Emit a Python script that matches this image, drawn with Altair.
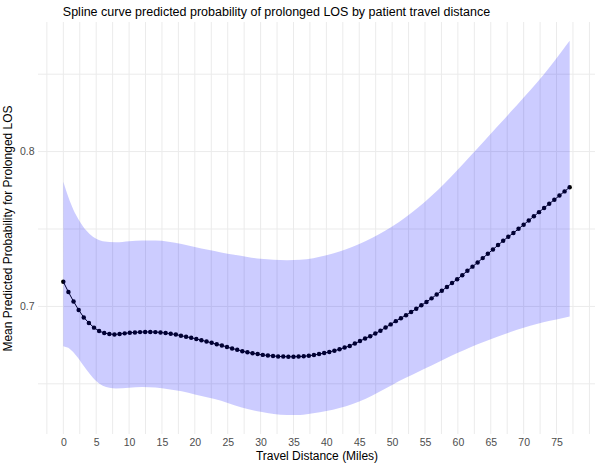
import altair as alt
import numpy as np
import pandas as pd

# Prediction grid: 100 evenly spaced travel distances from 0 to 77 miles
distance = np.linspace(0, 77, 100)

# Mean predicted probability of prolonged LOS at each grid distance
mean_prob = [
    0.7159, 0.7093, 0.7032, 0.6977, 0.6929, 0.6893, 0.6863, 0.6841, 0.6828, 0.6822,
    0.6819, 0.6822, 0.6826, 0.6830, 0.6832, 0.6834, 0.6835, 0.6835, 0.6834, 0.6832,
    0.6828, 0.6824, 0.6818, 0.6811, 0.6804, 0.6797, 0.6790, 0.6782, 0.6773, 0.6765,
    0.6756, 0.6748, 0.6738, 0.6728, 0.6720, 0.6711, 0.6704, 0.6698, 0.6692, 0.6687,
    0.6683, 0.6680, 0.6677, 0.6676, 0.6675, 0.6675, 0.6676, 0.6678, 0.6681, 0.6686,
    0.6692, 0.6699, 0.6706, 0.6714, 0.6723, 0.6734, 0.6745, 0.6760, 0.6776, 0.6793,
    0.6808, 0.6825, 0.6843, 0.6864, 0.6884, 0.6905, 0.6924, 0.6943, 0.6964, 0.6985,
    0.7007, 0.7029, 0.7052, 0.7077, 0.7101, 0.7126, 0.7151, 0.7175, 0.7202, 0.7230,
    0.7257, 0.7284, 0.7312, 0.7340, 0.7368, 0.7396, 0.7424, 0.7450, 0.7474, 0.7501,
    0.7528, 0.7555, 0.7582, 0.7609, 0.7636, 0.7663, 0.7689, 0.7716, 0.7743, 0.7770,
]

# Confidence band bounds
band_miles = [0, 1, 2, 3, 4, 5, 6, 8, 10, 12, 14, 16, 18, 20, 22, 24, 26, 28, 30, 32,
              34, 36, 38, 40, 42, 44, 46, 48, 50, 52, 54, 56, 58, 60, 62, 64, 66, 68,
              70, 72, 74, 76, 77]
band_lower = [0.6742, 0.6725, 0.6680, 0.6622, 0.6565, 0.6518, 0.6488, 0.6470, 0.6474,
              0.6480, 0.6476, 0.6465, 0.6452, 0.6431, 0.6411, 0.6390, 0.6362, 0.6338,
              0.6319, 0.6305, 0.6298, 0.6299, 0.6310, 0.6324, 0.6344, 0.6370, 0.6404,
              0.6447, 0.6493, 0.6537, 0.6578, 0.6618, 0.6660, 0.6700, 0.6738, 0.6772,
              0.6804, 0.6834, 0.6862, 0.6886, 0.6907, 0.6926, 0.6935]
band_upper = [0.7806, 0.7680, 0.7585, 0.7516, 0.7468, 0.7437, 0.7421, 0.7414, 0.7421,
              0.7426, 0.7425, 0.7418, 0.7403, 0.7384, 0.7366, 0.7349, 0.7334, 0.7320,
              0.7308, 0.7302, 0.7299, 0.7301, 0.7311, 0.7330, 0.7355, 0.7386, 0.7423,
              0.7466, 0.7516, 0.7574, 0.7640, 0.7714, 0.7796, 0.7884, 0.7976, 0.8069,
              0.8162, 0.8255, 0.8350, 0.8445, 0.8548, 0.8660, 0.8716]

# Tick labels and background grid positions (major + minor)
x_ticks = [0, 5, 10, 15, 20, 25, 30, 35, 40, 45, 50, 55, 60, 65, 70, 75]
y_ticks = [0.7, 0.8]
x_grid = [-2.5, 0, 2.5, 5, 7.5, 10, 12.5, 15, 17.5, 20, 22.5, 25, 27.5, 30, 32.5, 35,
          37.5, 40, 42.5, 45, 47.5, 50, 52.5, 55, 57.5, 60, 62.5, 65, 67.5, 70, 72.5,
          75, 77.5, 80]
y_grid = [0.65, 0.70, 0.75, 0.80, 0.85]

curve = pd.DataFrame({"distance": distance, "prob": mean_prob})
band = pd.DataFrame({"distance": band_miles, "lower": band_lower, "upper": band_upper})
vgrid = pd.DataFrame({"distance": x_grid})
hgrid = pd.DataFrame({"prob": y_grid})

FONT = "Liberation Sans"
GRID = "#ebebeb"

x_scale = alt.Scale(domain=[-3.85, 80.85], nice=False, zero=False)
y_scale = alt.Scale(domain=[0.6176, 0.8837], nice=False, zero=False)

x_axis = alt.Axis(
    values=x_ticks,
    labelOverlap=False,
    title="Travel Distance (Miles)",
    titlePadding=3,
    labelPadding=3,
)
y_axis = alt.Axis(
    values=y_ticks,
    format=".1f",
    labelOverlap=False,
    title="Mean Predicted Probability for Prolonged LOS",
    titlePadding=5,
    labelPadding=4,
)


def xenc(field):
    return alt.X(field, scale=x_scale, axis=x_axis)


def yenc(field):
    return alt.Y(field, scale=y_scale, axis=y_axis)


vlines = alt.Chart(vgrid).mark_rule(color=GRID, strokeWidth=1).encode(
    x=xenc("distance:Q"),
)
hlines = alt.Chart(hgrid).mark_rule(color=GRID, strokeWidth=1).encode(
    y=yenc("prob:Q"),
)
line = alt.Chart(curve).mark_line(color="black", strokeWidth=1).encode(
    x=xenc("distance:Q"),
    y=yenc("prob:Q"),
)
points = alt.Chart(curve).mark_circle(color="black", opacity=1, size=20).encode(
    x=xenc("distance:Q"),
    y=yenc("prob:Q"),
)
ribbon = alt.Chart(band).mark_area(color="blue", opacity=0.2, interpolate="monotone").encode(
    x=xenc("distance:Q"),
    y=yenc("lower:Q"),
    y2="upper:Q",
)

chart = (
    alt.layer(vlines, hlines, line, points, ribbon)
    .properties(
        width=557,
        height=412,
        autosize="none",
        padding={"left": 38, "top": 22, "right": 2, "bottom": 30},
        title=alt.TitleParams(
            "Spline curve predicted probability of prolonged LOS by patient travel distance",
            anchor="middle",
            frame="group",
            dx=-40,
            offset=3,
            fontSize=12.5,
            fontWeight="normal",
            font=FONT,
            color="black",
        ),
    )
    .configure_view(stroke=None)
    .configure_axis(
        domain=False,
        ticks=False,
        grid=False,
        labelFont=FONT,
        labelFontSize=10.5,
        labelColor="#4d4d4d",
        titleFont=FONT,
        titleFontSize=12,
        titleFontWeight="normal",
        titleColor="black",
    )
)

chart.save("out.html", embed_options={"renderer": "svg", "actions": False})
